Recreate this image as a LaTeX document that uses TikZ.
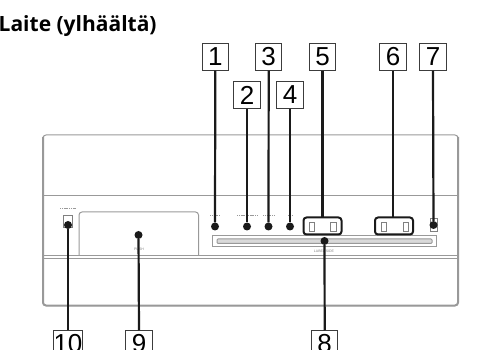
\documentclass[tikz,border=0pt]{standalone}
\usepackage{fontspec}
\setmainfont{Liberation Sans}
\newfontfamily\titlefont{Open Sans}
\usetikzlibrary{positioning}
\definecolor{Casing}{HTML}{999999}
\definecolor{Lead}{HTML}{1A1A1A}
\tikzset{
    % numbered boxes round the device
    num_box/.style={
        rectangle,
        draw=Lead!85!white,
        line width=1pt,
        minimum width=26.5pt,
        minimum height=26.5pt,
        inner sep=0pt,
        font=\fontsize{26}{26}\selectfont
    },
    lead_line/.style={draw=Lead, line width=2.2pt},
    dot_end/.style={circle, fill=Lead, inner sep=0pt, minimum size=8pt},
    casing_line/.style={draw=Casing, line width=1pt},
    tiny_text/.style={font=\fontsize{3.5}{4}\selectfont, text=gray, inner sep=0pt},
    % print too small to read in the reference
    print_mark/.style={draw=black!40, line width=1pt, dash pattern=on 1.2pt off 0.6pt},
    switch_box/.style={draw=Lead, line width=2pt, rounded corners=3pt},
    key_box/.style={draw=gray, line width=0.6pt}
}
\begin{document}
\begin{tikzpicture}[x=1pt, y=-1pt]
    \useasboundingbox (0,0) rectangle (496,350);

    % --- DEVICE ---
    \draw[casing_line, rounded corners=3pt] (43,135) rectangle (458,305.5);
    \draw[casing_line, line width=2pt, rounded corners=3pt] (43,137) -- (43,305.5) -- (458,305.5) -- (458,137);
    \draw[casing_line] (43,196) -- (458,196);
    \draw[casing_line] (43,255.5) -- (458,255.5);
    \draw[casing_line, line width=0.5pt] (43,258) -- (458,258);
    \draw[casing_line, rounded corners=3pt] (79,255.5) -- (79,212) -- (198.5,212) -- (198.5,255.5);
    % disc slot
    \draw[casing_line] (212.5,236) rectangle (436.5,247);
    \draw[casing_line, fill=black!15, rounded corners=1pt] (217,239) rectangle (432,243.5);
    % switches
    \node[key_box, minimum width=9pt, minimum height=12pt, inner sep=0pt] (key_10) at (68,221) {};
    \node[key_box, minimum width=7pt, minimum height=13pt, inner sep=0pt] (key_7) at (433.5,225) {};
    \draw[switch_box] (303.5,217.5) rectangle (341.5,234.5);
    \draw[switch_box] (375,217.5) rectangle (413,234.5);
    \draw[key_box] (309,222) rectangle (314.5,231);
    \draw[key_box] (330.5,222) rectangle (336,231);
    \draw[key_box] (381,222) rectangle (386.5,231);
    \draw[key_box] (403,222) rectangle (408.5,231);

    % --- TITLE ---
    \node[anchor=base west, inner sep=0pt, font=\titlefont\bfseries\fontsize{21}{22}\selectfont] (title) at (-1.5,32) {Laite (ylhäältä)};

    % --- SMALL PRINT ---
    \node[tiny_text] (push) at (139,249) {PUSH};
    \node[tiny_text] (label_side) at (324,251) {LABEL SIDE};
    \foreach \xa/\xb in {210/220, 237/257, 263/274, 288/292}
        \draw[print_mark] (\xa,215.5) -- (\xb,215.5);
    \draw[print_mark] (60,209) -- (76,209);

    % --- NUMBERS ---
    \node[num_box] (n1) at (215.3,57) {1};
    \node[num_box] (n2) at (247,95) {2};
    \node[num_box] (n3) at (268.7,57) {3};
    \node[num_box] (n4) at (290,95) {4};
    \node[num_box] (n5) at (322.5,57) {5};
    \node[num_box] (n6) at (393,57) {6};
    \node[num_box] (n7) at (433,57) {7};
    \node[num_box] (n8) at (324.7,344) {8};
    \node[num_box] (n9) at (139,344) {9};
    \node[num_box] (n10) at (68,344) {10};

    % --- DOTS ---
    \node[dot_end] (d1) at (215,226.5) {};
    \node[dot_end] (d2) at (247,226.5) {};
    \node[dot_end] (d3) at (268.5,226.5) {};
    \node[dot_end] (d4) at (290,226.5) {};
    \node[dot_end] (d7) at (433.5,225) {};
    \node[dot_end] (d8) at (324.5,241) {};
    \node[dot_end] (d9) at (138.5,235) {};
    \node[dot_end] (d10) at (68,225) {};
    \coordinate (d5) at (322.5,217.5);
    \coordinate (d6) at (393,217.5);

    % --- LEADERS ---
    \foreach \a/\b in {n1/d1, n2/d2, n3/d3, n4/d4, n5/d5, n6/d6, n7/d7}
        \draw[lead_line] (\a.south) -- (\b);
    \foreach \a/\b in {n8/d8, n9/d9, n10/d10}
        \draw[lead_line] (\a.north) -- (\b);
\end{tikzpicture}
\end{document}
